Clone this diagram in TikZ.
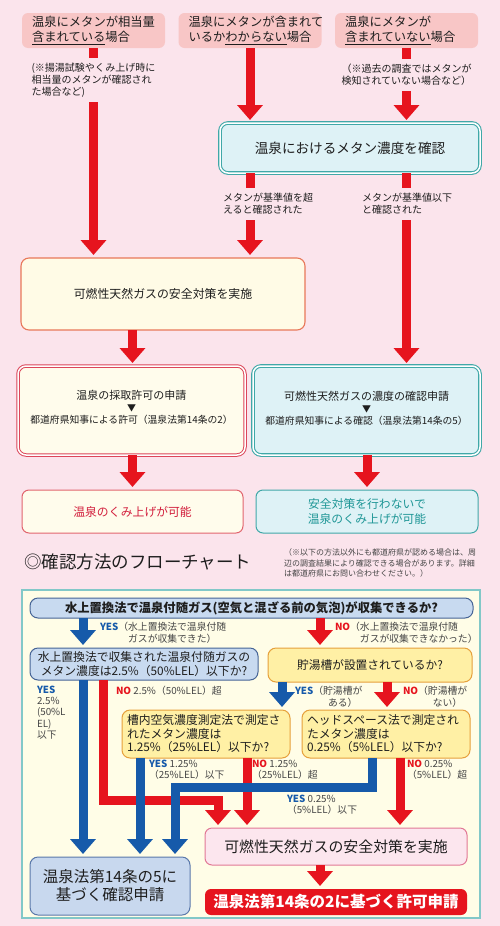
\documentclass[tikz,border=0pt]{standalone}
\usepackage{fontspec}
\setmainfont{Noto Sans CJK JP}
\usetikzlibrary{arrows.meta}
\newcommand{\myfs}[2]{\fontsize{#1}{#2}\selectfont}
\definecolor{bgpink}{RGB}{251,228,236}
\definecolor{topfill}{RGB}{248,198,198}
\definecolor{arrred}{RGB}{230,20,30}
\definecolor{arrblue}{RGB}{22,90,170}
\definecolor{tealc}{RGB}{64,168,168}
\definecolor{tealfill}{RGB}{222,242,246}
\definecolor{tealtext}{RGB}{30,150,150}
\definecolor{safefill}{RGB}{255,251,230}
\definecolor{safeborder}{RGB}{232,120,90}
\definecolor{appred}{RGB}{220,70,90}
\definecolor{appfill}{RGB}{255,252,236}
\definecolor{resred}{RGB}{225,100,110}
\definecolor{restext}{RGB}{210,30,60}
\definecolor{contfill}{RGB}{255,253,231}
\definecolor{contborder}{RGB}{130,200,200}
\definecolor{qbfill}{RGB}{200,218,240}
\definecolor{qbborder}{RGB}{70,100,150}
\definecolor{qyfill}{RGB}{255,240,165}
\definecolor{qyborder}{RGB}{230,160,60}
\definecolor{s2fill}{RGB}{252,230,238}
\definecolor{s2border}{RGB}{225,120,150}
\definecolor{lffill}{RGB}{200,216,238}
\definecolor{lfborder}{RGB}{90,120,170}
\definecolor{txt}{RGB}{30,30,30}
\definecolor{labtxt}{RGB}{70,70,70}
\newcommand{\yeslab}[1]{{\color{arrblue}\bfseries #1}}
\newcommand{\nolab}[1]{{\color{arrred}\bfseries #1}}
\begin{document}
\begin{tikzpicture}[x=1pt,y=-1pt,
  every node/.style={inner sep=0pt, outer sep=0pt, text=txt},
  topbox/.style={fill=topfill, rounded corners=6pt, minimum width=143pt, minimum height=35pt, align=left, text width=123pt, font=\myfs{12.3}{15}},
  tealbox/.style={draw=tealc, double=white, double distance=1.5pt, line width=1.1pt, fill=tealfill, rounded corners=8pt},
  redarr/.style={draw=arrred, line width=9pt, -{Triangle[width=25pt,length=15pt]}, shorten >=3pt},
  bluearr/.style={draw=arrblue, line width=9pt, -{Triangle[width=25pt,length=15pt]}, shorten >=3pt},
  masklab/.style={fill=bgpink, align=left, font=\myfs{10}{12}, inner xsep=2pt, inner ysep=5pt},
  qblue/.style={draw=qbborder, fill=qbfill, line width=1pt, rounded corners=8pt},
  qyellow/.style={draw=qyborder, fill=qyfill, line width=1pt, rounded corners=8pt},
  lab/.style={anchor=north west, align=left, font=\myfs{9.8}{11.2}, text=labtxt}
]
\fill[bgpink] (0,0) rectangle (500,926);
\useasboundingbox (0,0) rectangle (500,926);

% ---------------- upper part ----------------
\node[topbox] (b1) at (93.5,30.5) {温泉にメタンが相当量\\\underline{含まれている}場合};
\node[topbox] (b2) at (250,30.5) {温泉にメタンが含まれて\\いるか\underline{わからない}場合};
\node[topbox] (b3) at (406.5,30.5) {温泉にメタンが\\\underline{含まれていない}場合};

\node[tealbox, minimum width=260pt, minimum height=50pt, font=\myfs{13.6}{16}] (conc) at (350,148) {温泉におけるメタン濃度を確認};

\node[draw=safeborder, fill=safefill, line width=1.1pt, rounded corners=8pt, minimum width=284pt, minimum height=72pt, font=\myfs{11.9}{14}] (safe) at (163,294) {可燃性天然ガスの安全対策を実施};

\node[draw=appred, double=white, double distance=1.5pt, line width=1pt, fill=appfill, rounded corners=8pt, minimum width=227pt, minimum height=89pt] (appL) at (131.5,410.5) {};
\node[align=center] (appLt) at (131.5,407) {\myfs{11}{12}温泉の採取許可の申請\\\myfs{9}{8.5}▼\\\myfs{9.8}{13}都道府県知事による許可（温泉法第14条の2）};

\node[tealbox, minimum width=227pt, minimum height=89pt] (appR) at (366.5,410.5) {};
\node[align=center] (appRt) at (366.5,408) {\myfs{11}{12}可燃性天然ガスの濃度の確認申請\\\myfs{9}{9}▼\\\myfs{9.8}{13}都道府県知事による確認（温泉法第14条の5）};

\node[draw=resred, fill=appfill, line width=1pt, rounded corners=7pt, minimum width=221pt, minimum height=43pt, text=restext, font=\myfs{11.8}{14}] (resL) at (132.5,511.5) {温泉のくみ上げが可能};
\node[draw=tealc, fill=tealfill, line width=1pt, rounded corners=7pt, minimum width=222pt, minimum height=43pt, text=tealtext, align=center, font=\myfs{11.8}{15}] (resR) at (367,511.5) {安全対策を行わないで\\温泉のくみ上げが可能};

\draw[redarr] (b1.south) -- (b1.south |- safe.north);
\draw[redarr] (b2.south) -- (b2.south |- conc.north);
\draw[redarr] (b3.south) -- (b3.south |- conc.north);
\draw[redarr] (conc.south -| b2.south) -- (b2.south |- safe.north);
\draw[redarr] (conc.south -| b3.south) -- (b3.south |- appR.north);
\draw[redarr] (safe.south -| resL.north) -- (appL.north -| resL.north);
\draw[redarr] (appL.south -| resL.north) -- (resL.north);
\draw[redarr] (appR.south -| resR.north) -- (resR.north);

\node[masklab] (n1) at (93.5,80) {(※揚湯試験やくみ上げ時に\\相当量のメタンが確認され\\た場合など)};
\node[masklab] (n3) at (406.5,75) {（※過去の調査ではメタンが\\検知されていない場合など）};
\node[masklab, anchor=west] (n4) at (221,204) {メタンが基準値を超\\えると確認された};
\node[masklab, anchor=west] (n5) at (360,204) {メタンが基準値以下\\と確認された};

% ---------------- lower part ----------------
\node[anchor=west, font=\myfs{17.5}{20}] (title) at (24,562) {◎確認方法のフローチャート};
\node[anchor=north west, align=left, font=\myfs{8}{10.3}, text=labtxt] (note) at (284,549) {（※以下の方法以外にも都道府県が認める場合は、周\\辺の調査結果により確認できる場合があります。詳細\\は都道府県にお問い合わせください。）};

\node[draw=contborder, fill=contfill, line width=1.5pt, minimum width=458pt, minimum height=328pt] (cont) at (251,754) {};

\node[qblue, minimum width=443pt, minimum height=20pt, font=\bfseries\myfs{12.3}{14}] (q1) at (251.5,608) {水上置換法で温泉付随ガス(空気と混ざる前の気泡)が収集できるか?};
\node[qblue, minimum width=228pt, minimum height=32pt, align=center, font=\myfs{11.8}{13.5}] (q2) at (144,664) {水上置換法で収集された温泉付随ガスの\\メタン濃度は2.5\%（50\%LEL）以下か?};
\node[qyellow, minimum width=204pt, minimum height=34pt, font=\myfs{11.7}{14}] (q3) at (370,665) {貯湯槽が設置されているか?};
\node[qyellow, minimum width=168pt, minimum height=48pt, align=left, text width=158pt, font=\myfs{11.8}{13.5}] (q4) at (206,734) {槽内空気濃度測定法で測定さ\\れたメタン濃度は\\1.25\%（25\%LEL）以下か?};
\node[qyellow, minimum width=168pt, minimum height=48pt, align=left, text width=158pt, font=\myfs{11.8}{13.5}] (q5) at (386,734) {ヘッドスペース法で測定され\\たメタン濃度は\\0.25\%（5\%LEL）以下か?};

\node[draw=lfborder, fill=lffill, line width=1pt, rounded corners=8pt, minimum width=160pt, minimum height=58pt, align=center, font=\myfs{15.5}{18}] (lf) at (110,886) {温泉法第14条の5に\\基づく確認申請};
\node[draw=s2border, fill=s2fill, line width=1pt, rounded corners=7pt, minimum width=262pt, minimum height=37pt, font=\myfs{14.9}{17}] (safe2) at (336,846.5) {可燃性天然ガスの安全対策を実施};
\node[fill=arrred, rounded corners=6pt, minimum width=262pt, minimum height=26pt, text=white, font=\bfseries\myfs{15.5}{17}] (fin) at (336,902) {温泉法第14条の2に基づく許可申請};

\coordinate (xA) at (83,0);
\coordinate (xB) at (103,0);
\coordinate (xC) at (140,0);
\coordinate (xD) at (175,0);
\coordinate (xE) at (218,0);
\coordinate (xF) at (247,0);
\coordinate (xG) at (282,0);
\coordinate (xH) at (320,0);
\coordinate (xI) at (372,0);
\coordinate (xJ) at (387,0);
\coordinate (xK) at (400,0);
\coordinate (yR) at (0,800);
\coordinate (yB) at (0,787);

\draw[redarr] (q1.south -| xH) -- (q3.north -| xH);
\draw[redarr] (q3.south -| xJ) -- (q5.north -| xJ);
\draw[redarr] (q2.south -| xB) |- (yR -| xE) -- (safe2.north -| xE);
\draw[redarr] (q4.south -| xF) -- (safe2.north -| xF);
\draw[redarr] (q5.south -| xK) -- (safe2.north -| xK);
\draw[redarr] (safe2.south -| xH) -- (fin.north -| xH);
\draw[bluearr] (q1.south -| xA) -- (q2.north -| xA);
\draw[bluearr] (q3.south -| xG) -- (q4.north -| xG);
\draw[bluearr] (q2.south -| xA) -- (lf.north -| xA);
\draw[bluearr] (q4.south -| xC) -- (lf.north -| xC);
\draw[bluearr] (q5.south -| xI) |- (yB -| xD) -- (lf.north -| xD);

\node[lab] (l1) at (100,622) {\yeslab{YES}（\begin{tabular}[t]{@{}l@{}}水上置換法で温泉付随\\ガスが収集できた）\end{tabular}};
\node[lab] (l2) at (335,622) {\nolab{NO}（\begin{tabular}[t]{@{}l@{}}水上置換法で温泉付随\\ガスが収集できなかった）\end{tabular}};
\node[lab] (l3) at (37,686) {\yeslab{YES}\\2.5\%\\(50\%L\\EL)\\以下};
\node[lab] (l4) at (116,686) {\nolab{NO} 2.5\%（50\%LEL）超};
\node[lab] (l5) at (295,686) {\yeslab{YES}（\begin{tabular}[t]{@{}c@{}}貯湯槽が\\ある）\end{tabular}};
\node[lab] (l6) at (403,686) {\nolab{NO}（\begin{tabular}[t]{@{}c@{}}貯湯槽が\\ない）\end{tabular}};
\node[lab] (l7) at (149,760) {\yeslab{YES} 1.25\%\\（25\%LEL）以下};
\node[lab] (l8) at (252,760) {\nolab{NO} 1.25\%\\（25\%LEL）超};
\node[lab] (l9) at (287,795) {\yeslab{YES} 0.25\%\\（5\%LEL）以下};
\node[lab] (l10) at (407,760) {\nolab{NO} 0.25\%\\（5\%LEL）超};
\end{tikzpicture}
\end{document}
